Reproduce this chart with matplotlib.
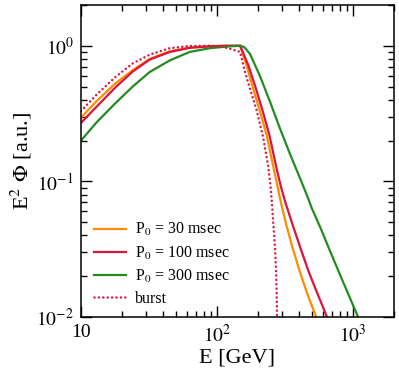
import numpy as np
import matplotlib
matplotlib.use("Agg")
import matplotlib.pyplot as plt
from matplotlib.ticker import LogLocator, NullFormatter

plt.rcParams["font.family"] = "serif"
plt.rcParams["font.serif"] = ["Liberation Serif", "DejaVu Serif"]
plt.rcParams["mathtext.fontset"] = "stix"

# energies (GeV) and E^2 Phi (a.u.)
e_30 = [10, 13, 17.8, 24, 32, 45, 63, 90, 120, 148, 165, 185, 207, 232, 259, 276, 290, 320, 355, 400, 440, 480, 537, 600]
f_30 = [0.295, 0.39, 0.525, 0.66, 0.80, 0.91, 0.97, 0.995, 1.0, 1.0, 0.72, 0.48, 0.33, 0.22, 0.13, 0.097, 0.076, 0.050, 0.034, 0.0228, 0.0171, 0.0134, 0.01, 0.0077]

e_100 = [10, 13, 17.8, 24, 32, 45, 63, 90, 120, 148, 170, 194, 217, 243, 272, 295, 316, 360, 417, 470, 520, 580, 645, 720]
f_100 = [0.27, 0.355, 0.49, 0.645, 0.79, 0.90, 0.965, 0.99, 1.0, 1.0, 0.72, 0.48, 0.33, 0.22, 0.13, 0.092, 0.072, 0.048, 0.031, 0.022, 0.017, 0.013, 0.01, 0.0077]

e_300 = [10, 13, 17.8, 24, 32, 45, 63, 89, 125, 150, 160, 175, 207, 246, 291, 344, 400, 432, 466, 500, 580, 676, 850, 1070, 1200]
f_300 = [0.20, 0.272, 0.375, 0.50, 0.64, 0.78, 0.90, 0.96, 0.99, 1.0, 0.97, 0.87, 0.60, 0.385, 0.245, 0.16, 0.111, 0.092, 0.076, 0.063, 0.045, 0.031, 0.018, 0.0105, 0.0080]

e_burst = [10, 13, 17.8, 24, 32, 45, 63, 90, 110, 125, 148, 161, 175, 195, 219, 238, 248, 253, 268, 273, 277, 280]
f_burst = [0.33, 0.435, 0.585, 0.74, 0.86, 0.96, 0.995, 1.0, 0.98, 0.95, 0.90, 0.64, 0.48, 0.34, 0.21, 0.13, 0.092, 0.072, 0.031, 0.02, 0.01, 0.005]

fig = plt.figure(figsize=(3.99, 3.77), dpi=100)
ax = fig.add_axes([0.203, 0.159, 0.784, 0.828])

lw = 1.6
ax.plot(e_30, f_30, color="#ff8c00", lw=lw, label=r"P$_0$ = 30 msec")
ax.plot(e_100, f_100, color="#dc143c", lw=lw, label=r"P$_0$ = 100 msec")
ax.plot(e_300, f_300, color="#228b22", lw=lw, label=r"P$_0$ = 300 msec")
ax.plot(e_burst, f_burst, color="#dc143c", lw=1.8, ls=(0, (0.01, 1.75)),
        dash_capstyle="round", label="burst")

ax.set_xscale("log")
ax.set_yscale("log")
ax.set_xlim(10, 2000)
ax.set_ylim(0.01, 2)

ax.set_xticks([10, 100, 1000])
ax.set_xticklabels(["10", r"$10^2$", r"$10^3$"])
ax.xaxis.set_minor_locator(LogLocator(base=10, subs=np.arange(2, 10)))
ax.xaxis.set_minor_formatter(NullFormatter())
ax.set_yticks([0.01, 0.1, 1])
ax.set_yticklabels([r"$10^{-2}$", r"$10^{-1}$", r"$10^0$"])
ax.yaxis.set_minor_locator(LogLocator(base=10, subs=np.arange(2, 10)))
ax.yaxis.set_minor_formatter(NullFormatter())

ax.tick_params(which="both", direction="in", top=True, right=True, width=1.0)
ax.tick_params(which="major", length=8, labelsize=14, pad=5)
ax.tick_params(which="minor", length=4.5)
for s in ax.spines.values():
    s.set_linewidth(1.1)

ax.set_xlabel("E [GeV]", fontsize=16, labelpad=2)
ax.set_ylabel(r"E$^2$ $\Phi$ [a.u.]", fontsize=16, labelpad=2)

ax.legend(loc="lower left", bbox_to_anchor=(0.0, -0.008), frameon=False,
          fontsize=11.5, handlelength=2.0, handletextpad=0.6,
          labelspacing=0.38, borderaxespad=0.4)

fig.savefig("out.png", dpi=100)
